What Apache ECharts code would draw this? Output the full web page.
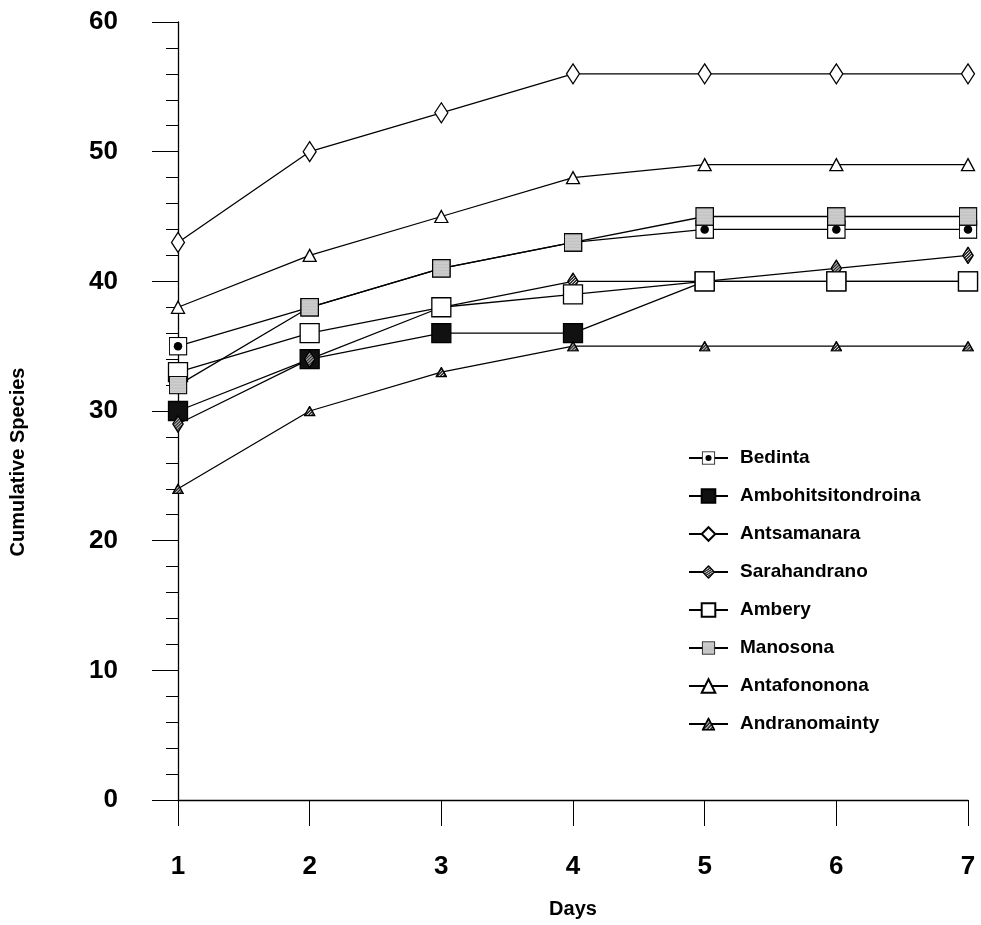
<!DOCTYPE html>
<html>
<head>
<meta charset="utf-8">
<title>Cumulative Species</title>
<script src="https://cdn.jsdelivr.net/npm/echarts@6/dist/echarts.min.js"></script>
<style>
    html, body { margin: 0; padding: 0; background: #fff; }
    #chart { width: 981px; height: 925px; }
</style>
</head>
<body>
<div id="chart"></div>
<script>
// Data
var days = [1, 2, 3, 4, 5, 6, 7];
var siteNames = ['Bedinta', 'Ambohitsitondroina', 'Antsamanara', 'Sarahandrano', 'Ambery', 'Manosona', 'Antafononona', 'Andranomainty'];
var bedinta = [35, 38, 41, 43, 44, 44, 44];
var ambohitsitondroina = [30, 34, 36, 36, 40, 40, 40];
var antsamanara = [43, 50, 53, 56, 56, 56, 56];
var sarahandrano = [29, 34, 38, 40, 40, 41, 42];
var ambery = [33, 36, 38, 39, 40, 40, 40];
var manosona = [32, 38, 41, 43, 45, 45, 45];
var antafononona = [38, 42, 45, 48, 49, 49, 49];
var andranomainty = [24, 30, 33, 35, 35, 35, 35];
var yTicks = [0, 10, 20, 30, 40, 50, 60];

var textFont = "'Liberation Sans', Arial, sans-serif";

// marker images (square with dot, dotted square, hatched shapes)
var svgImg = function (body, w, h) {
    return 'image://data:image/svg+xml;charset=utf-8,' + encodeURIComponent(
        '<svg xmlns="http://www.w3.org/2000/svg" width="' + w + '" height="' + h + '" viewBox="0 0 ' + w + ' ' + h + '">' + body + '</svg>');
};
var dotPattern = '<defs><pattern id="p" width="3" height="3" patternUnits="userSpaceOnUse"><rect width="3" height="3" fill="#e6e6e6"/><circle cx="1.5" cy="1.5" r="0.8" fill="#555"/></pattern></defs>';
var hatchPattern = '<defs><pattern id="h" width="4" height="4" patternUnits="userSpaceOnUse" patternTransform="rotate(45)"><rect width="4" height="4" fill="#222"/><rect width="1.6" height="4" fill="#ddd"/></pattern></defs>';

var bedintaSymbol = svgImg('<rect x="1.5" y="1.5" width="35" height="35" fill="#fff" stroke="#000" stroke-width="2.6"/><circle cx="19" cy="19" r="8.5" fill="#000"/>', 38, 38);
var manosonaSymbol = svgImg(dotPattern + '<rect x="1.5" y="1.5" width="35" height="35" fill="url(#p)" stroke="#000" stroke-width="2.6"/>', 38, 38);
var sarahandranoSymbol = svgImg(hatchPattern + '<polygon points="11,1.5 20.5,17 11,32.5 1.5,17" fill="url(#h)" stroke="#000" stroke-width="2.4"/>', 22, 34);
var andranomaintySymbol = svgImg(hatchPattern + '<polygon points="11,1.8 20.5,18.5 1.5,18.5" fill="url(#h)" stroke="#000" stroke-width="2.6"/>', 22, 20);

var toPairs = function (vals) {
    var out = [];
    for (var i = 0; i < days.length; i++) {
        out.push([days[i], vals[i]]);
    }
    return out;
};

var makeSeries = function (name, vals, symbol, size, fill) {
    return {
        name: name,
        type: 'line',
        data: toPairs(vals),
        symbol: symbol,
        symbolSize: size,
        showSymbol: true,
        color: '#000',
        lineStyle: { color: '#000', width: 1.3 },
        itemStyle: { color: fill, borderColor: '#000', borderWidth: 1.3 },
        emphasis: { disabled: true },
        animation: false
    };
};

var chart = echarts.init(document.getElementById('chart'));

var option = {
    animation: false,
    backgroundColor: '#fff',
    grid: { left: 177, right: 13, top: 22, bottom: 125, containLabel: false },
    legend: {
        orient: 'vertical',
        left: 683,
        top: 443,
        itemWidth: 39,
        itemHeight: 17,
        itemGap: 18,
        data: siteNames,
        textStyle: {
            fontFamily: textFont,
            fontWeight: 'bold',
            fontSize: 19,
            lineHeight: 20,
            color: '#000',
            padding: [0, 0, 0, 7]
        }
    },
    xAxis: {
        type: 'value',
        min: 1,
        max: 7,
        interval: 1,
        name: 'Days',
        nameLocation: 'middle',
        nameGap: 99,
        nameTextStyle: { fontFamily: textFont, fontWeight: 'bold', fontSize: 20, color: '#000' },
        axisLine: { show: true, onZero: false, lineStyle: { color: '#000', width: 1.3 } },
        axisTick: { show: true, inside: false, length: 26, lineStyle: { color: '#000', width: 1 } },
        axisLabel: { margin: 54, fontFamily: textFont, fontWeight: 'bold', fontSize: 26, color: '#000' },
        splitLine: { show: false }
    },
    yAxis: {
        type: 'value',
        min: yTicks[0],
        max: yTicks[yTicks.length - 1],
        interval: 10,
        name: 'Cumulative Species',
        nameLocation: 'middle',
        nameRotate: 90,
        nameGap: 150,
        nameTextStyle: { fontFamily: textFont, fontWeight: 'bold', fontSize: 20, color: '#000', padding: [0, 102, 0, 0] },
        axisLine: { show: true, onZero: false, lineStyle: { color: '#000', width: 1.3 } },
        axisTick: { show: true, inside: false, length: 26, lineStyle: { color: '#000', width: 1 } },
        minorTick: { show: true, splitNumber: 5, length: 12, lineStyle: { color: '#000', width: 1 } },
        axisLabel: { margin: 60, fontFamily: textFont, fontWeight: 'bold', fontSize: 26, color: '#000' },
        splitLine: { show: false }
    },
    series: [
        makeSeries('Bedinta', bedinta, bedintaSymbol, 19, '#fff'),
        makeSeries('Ambohitsitondroina', ambohitsitondroina, 'rect', 19, '#111'),
        makeSeries('Antsamanara', antsamanara, 'diamond', [13, 20], '#fff'),
        makeSeries('Sarahandrano', sarahandrano, sarahandranoSymbol, [12, 18], '#555'),
        makeSeries('Ambery', ambery, 'rect', 19, '#fff'),
        makeSeries('Manosona', manosona, manosonaSymbol, 19, '#ccc'),
        makeSeries('Antafononona', antafononona, 'triangle', [13, 12], '#fff'),
        makeSeries('Andranomainty', andranomainty, andranomaintySymbol, [12, 11], '#777')
    ]
};

chart.setOption(option);
</script>
</body>
</html>
